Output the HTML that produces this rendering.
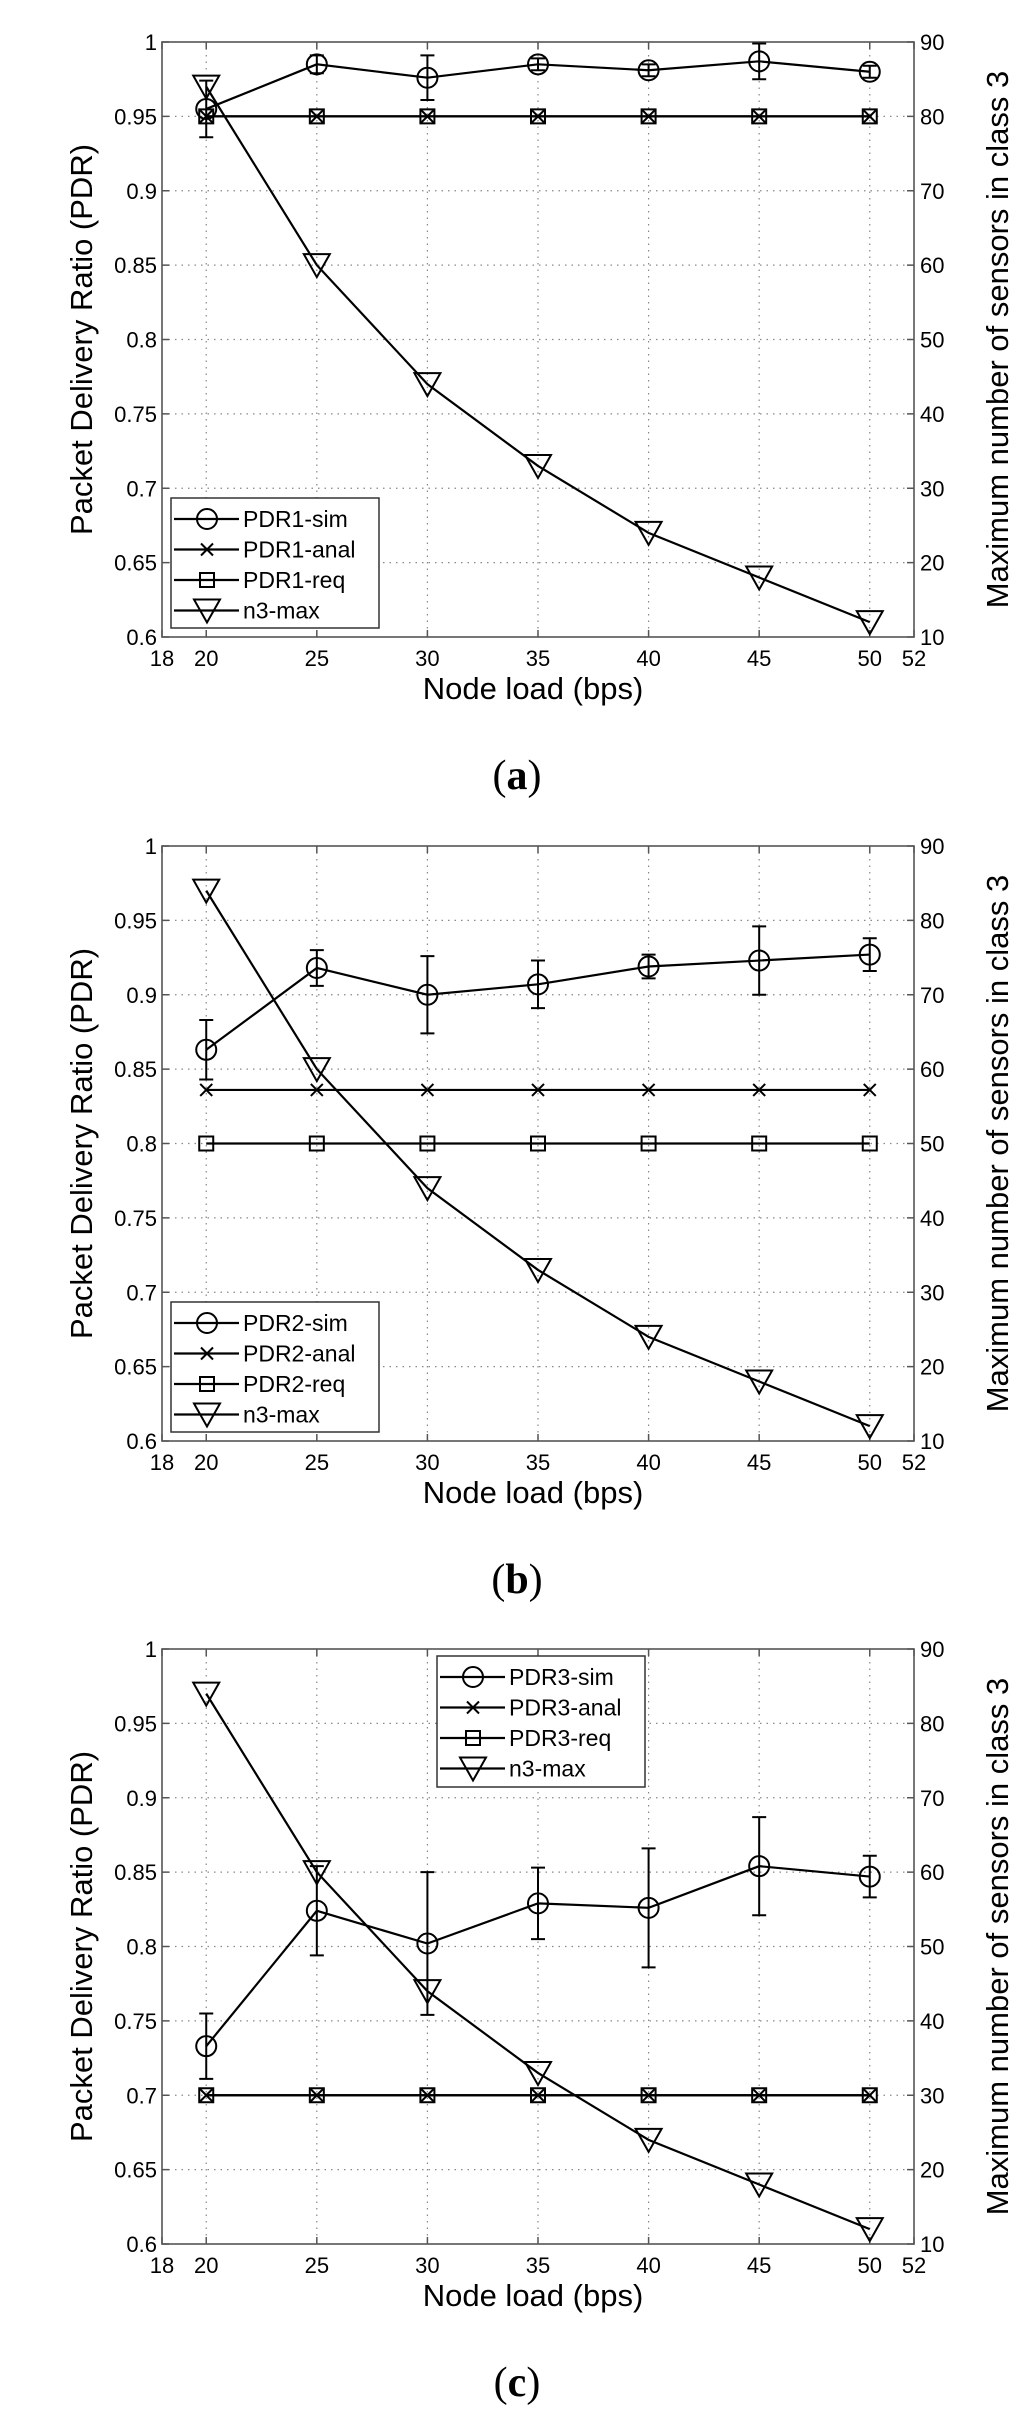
<!DOCTYPE html>
<html><head><meta charset="utf-8"><style>
html,body{margin:0;padding:0;background:#fff}
svg{display:block}
text{font-family:"Liberation Sans",sans-serif;fill:#000}
</style></head><body>
<svg id="fig" width="1024" height="2416" viewBox="0 0 1024 2416" xmlns="http://www.w3.org/2000/svg"></svg>
<script>
const xCats = [20,25,30,35,40,45,50];
const xTicks = [18,20,25,30,35,40,45,50,52];
const yTicks = [0.6,0.65,0.7,0.75,0.8,0.85,0.9,0.95,1];
const yTickLabels = ["0.6","0.65","0.7","0.75","0.8","0.85","0.9","0.95","1"];
const y2Ticks = [10,20,30,40,50,60,70,80,90];
const n3max = [84,60,44,33,24,18,12];
const simA = [0.955,0.985,0.976,0.985,0.981,0.987,0.980];
const errA = [0.019,0.006,0.015,0.004,0.004,0.012,0.004];
const analA = [0.95,0.95,0.95,0.95,0.95,0.95,0.95];
const reqA = [0.95,0.95,0.95,0.95,0.95,0.95,0.95];
const simB = [0.863,0.918,0.900,0.907,0.919,0.923,0.927];
const errB = [0.020,0.012,0.026,0.016,0.008,0.023,0.011];
const analB = [0.836,0.836,0.836,0.836,0.836,0.836,0.836];
const reqB = [0.8,0.8,0.8,0.8,0.8,0.8,0.8];
const simC = [0.733,0.824,0.802,0.829,0.826,0.854,0.847];
const errC = [0.022,0.030,0.048,0.024,0.040,0.033,0.014];
const analC = [0.7,0.7,0.7,0.7,0.7,0.7,0.7];
const reqC = [0.7,0.7,0.7,0.7,0.7,0.7,0.7];

const NS="http://www.w3.org/2000/svg";
const svg=document.getElementById('fig');
function el(tag,attrs,parent,txt){const e=document.createElementNS(NS,tag);for(const k in attrs)e.setAttribute(k,attrs[k]);if(txt!==undefined)e.textContent=txt;(parent||svg).appendChild(e);return e;}

function panel(id,top,sim,err,anal,req,idx,legendBox,caption){
  const L=162,R=914,T=top,B=top+595;
  const g=el('g',{});
  
  
  const xs=v=>L+(v-18)/(52-18)*(R-L);
  const ys=v=>B-(v-0.6)/(0.4)*(B-T);
  const ys2=v=>B-(v-10)/80*(B-T);
  xCats.forEach(v=>{const l=el('line',{x1:xs(v),x2:xs(v),y1:T,y2:B,stroke:'#888','stroke-width':1.2,'stroke-dasharray':'1.5,5'},g);});
  yTicks.slice(1,-1).forEach(v=>{const l=el('line',{x1:L,x2:R,y1:ys(v),y2:ys(v),stroke:'#888','stroke-width':1.2,'stroke-dasharray':'1.5,5'},g);});
  const box=el('rect',{x:L,y:T,width:R-L,height:B-T,fill:'none',stroke:'#555','stroke-width':1.6},g);
  
  xTicks.forEach(v=>{el('line',{x1:xs(v),x2:xs(v),y1:B,y2:B-7,stroke:'#555','stroke-width':1.5},g);el('line',{x1:xs(v),x2:xs(v),y1:T,y2:T+7,stroke:'#555','stroke-width':1.5},g);
    const t=el('text',{x:xs(v),y:B+29,'font-size':22,'text-anchor':'middle'},g,String(v));});
  yTicks.forEach((v,i)=>{el('line',{x1:L,x2:L+7,y1:ys(v),y2:ys(v),stroke:'#555','stroke-width':1.5},g);
    const t=el('text',{x:L-5,y:ys(v)+8,'font-size':22,'text-anchor':'end'},g,yTickLabels[i]);});
  y2Ticks.forEach(v=>{el('line',{x1:R,x2:R-7,y1:ys2(v),y2:ys2(v),stroke:'#555','stroke-width':1.5},g);
    const t=el('text',{x:R+6,y:ys2(v)+8,'font-size':22},g,String(v));});
  let t=el('text',{x:533,y:B+62,'font-size':31,'text-anchor':'middle'},g,'Node load (bps)');
  t=el('text',{x:0,y:0,'font-size':31,'text-anchor':'middle',transform:`translate(92,${(T+B)/2}) rotate(-90)`},g,'Packet Delivery Ratio (PDR)');
  t=el('text',{x:0,y:0,'font-size':31,'text-anchor':'middle',transform:`translate(1008,${(T+B)/2}) rotate(-90)`},g,'Maximum number of sensors in class 3');
  t=el('text',{x:517,y:top+747,'text-anchor':'middle',style:'font-family:"Liberation Serif",serif;font-size:42px;font-weight:bold'},g);
  t.innerHTML='<tspan style="font-weight:normal">(</tspan>'+caption+'<tspan style="font-weight:normal">)</tspan>';
  
  const path=(arr,f)=>arr.map((v,i)=>(i?'L':'M')+xs(xCats[i])+','+f(v)).join(' ');
  const sw=2.2;
  let p=el('path',{d:path(req,ys),fill:'none',stroke:'#000','stroke-width':sw},g);
  p=el('path',{d:path(anal,ys),fill:'none',stroke:'#000','stroke-width':sw},g);
  p=el('path',{d:path(sim,ys),fill:'none',stroke:'#000','stroke-width':sw},g);
  p=el('path',{d:path(n3max,ys2),fill:'none',stroke:'#000','stroke-width':sw},g);
  const sq=(x,y)=>{const r=el('rect',{x:x-7,y:y-7,width:14,height:14,fill:'none',stroke:'#000','stroke-width':2},g);};
  const xm=(x,y)=>{const q=el('path',{d:`M${x-6},${y-6}L${x+6},${y+6}M${x-6},${y+6}L${x+6},${y-6}`,stroke:'#000','stroke-width':2},g);};
  const ci=(x,y)=>{const c=el('circle',{cx:x,cy:y,r:10,fill:'none',stroke:'#000','stroke-width':2},g);};
  const tri=(x,y)=>{const q=el('path',{d:`M${x-13},${y-11}L${x+13},${y-11}L${x},${y+12}Z`,fill:'none',stroke:'#000','stroke-width':2},g);};
  xCats.forEach((c,i)=>{const x=xs(c);
    sq(x,ys(req[i]));xm(x,ys(anal[i]));
    const y1=ys(sim[i]-err[i]),y2=ys(sim[i]+err[i]);
    const e=el('path',{d:`M${x},${y1}L${x},${y2}M${x-7},${y1}L${x+7},${y1}M${x-7},${y2}L${x+7},${y2}`,stroke:'#000','stroke-width':2,fill:'none'},g);
    
    ci(x,ys(sim[i]));tri(x,ys2(n3max[i]));});
  const [lx,ly,lw,lh]=legendBox;
  const lg=el('g',{},g);
  el('rect',{x:lx,y:ly,width:lw,height:lh,fill:'#fff',stroke:'#333','stroke-width':1.5},lg);
  const names=['PDR'+idx+'-sim','PDR'+idx+'-anal','PDR'+idx+'-req','n3-max'];
  const fns=[ci,xm,sq,tri];
  names.forEach((n,i)=>{const ry=ly+21+i*30.5;
    const le=el('g',{},lg);
    el('line',{x1:lx+3,x2:lx+68,y1:ry,y2:ry,stroke:'#000','stroke-width':sw},le);
    fns[i](lx+36,ry);
    el('text',{x:lx+72,y:ry+8,'font-size':23},le,n);});
}
panel('a',42,simA,errA,analA,reqA,1,[171,498,208,130],'a');
panel('b',846,simB,errB,analB,reqB,2,[171,1302,208,130],'b');
panel('c',1649,simC,errC,analC,reqC,3,[437,1656,208,131],'c');
</script>
</body></html>
